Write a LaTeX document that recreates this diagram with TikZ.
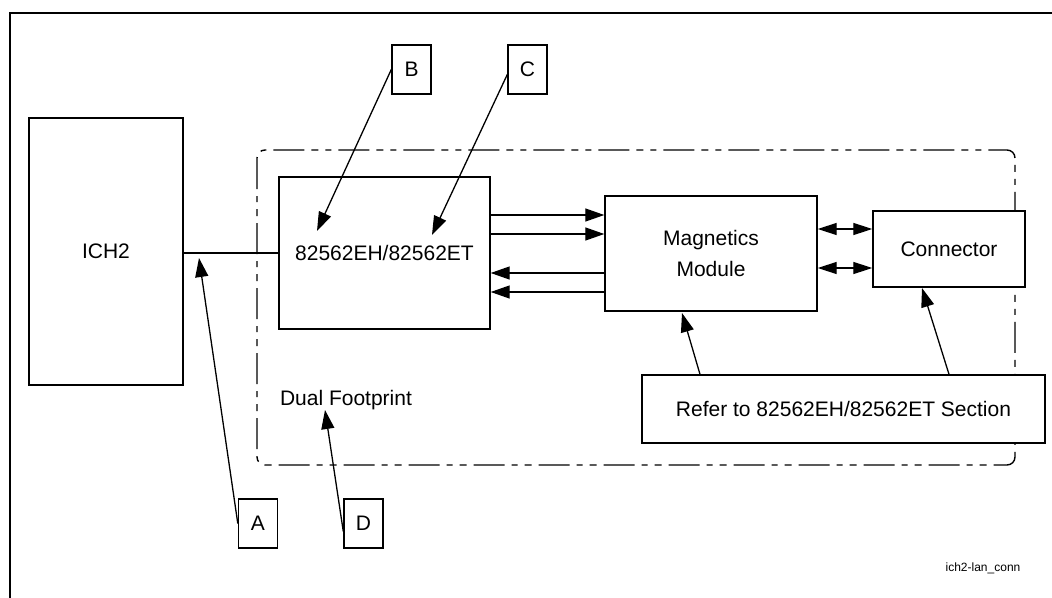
\documentclass[tikz,border=0pt]{standalone}
\usepackage{fontspec}
\setmainfont{Liberation Sans}
\usetikzlibrary{arrows.meta}
\tikzset{
  box/.style={draw, line width=1.4pt, rectangle, inner sep=0pt, align=center,
    fill=white, font=\fontsize{21}{31}\selectfont},
  lbl/.style={box, minimum width=39pt, minimum height=49pt},
  arr/.style={line width=1.3pt, -{Triangle[length=19pt,width=13pt]}},
  darr/.style={line width=1.3pt, {Triangle[length=19pt,width=12pt]}-{Triangle[length=19pt,width=12pt]}},
  wire/.style={line width=1.3pt},
  ddot/.style={line width=1.4pt, dash pattern=on 31pt off 7pt on 6pt off 7pt on 7pt off 7pt, rounded corners=8pt}
}
\begin{document}
\begin{tikzpicture}[x=1pt,y=-1pt]
\useasboundingbox (0,0) rectangle (1052,597);
% frame
\draw[line width=2.5pt] (10,600) -- (10,13) -- (1056,13);
% dual footprint region
\draw[ddot] (257,150) rectangle (1015,465);
% main blocks
\node[box, minimum width=154pt, minimum height=267pt] (ich) at (106,251.5) {ICH2};
\node[box, minimum width=211pt, minimum height=152pt] (chip) at (384.5,253) {82562EH/82562ET};
\node[box, minimum width=212pt, minimum height=115pt] (mag) at (711,253.5) {Magnetics\\Module};
\node[box, minimum width=152pt, minimum height=76pt] (conn) at (949,249) {Connector};
\node[box, minimum width=403pt, minimum height=68pt] (refer) at (843.5,409) {Refer to 82562EH/82562ET Section};
\node[font=\fontsize{21}{25}\selectfont, inner sep=0pt] (dual) at (346,400) {Dual Footprint};
\node[font=\fontsize{12}{14}\selectfont, inner sep=0pt] (tag) at (983,568) {ich2-lan\_conn};
% letter labels
\node[lbl] (B) at (411.5,69.5) {B};
\node[lbl] (C) at (527.5,69.5) {C};
\node[lbl] (A) at (258,523.5) {A};
\node[lbl] (D) at (363.5,523.5) {D};
% ICH2 to chip
\draw[wire] (ich.east |- chip.west) -- (chip.west);
% chip <-> magnetics
\coordinate (y1) at (0,215);
\coordinate (y2) at (0,234);
\coordinate (y3) at (0,273);
\coordinate (y4) at (0,292);
\draw[arr] (chip.east |- y1) -- (mag.west |- y1);
\draw[arr] (chip.east |- y2) -- (mag.west |- y2);
\draw[arr] (mag.west |- y3) -- (chip.east |- y3);
\draw[arr] (mag.west |- y4) -- (chip.east |- y4);
% magnetics <-> connector
\coordinate (y5) at (0,229);
\coordinate (y6) at (0,268);
\draw[darr] (mag.east |- y5) -- (conn.west |- y5);
\draw[darr] (mag.east |- y6) -- (conn.west |- y6);
% leader arrows
\coordinate (tB) at (317,231);
\coordinate (tC) at (432,235);
\coordinate (tA) at (199,258);
\coordinate (tD) at (325,410);
\coordinate (tM) at (682,313);
\coordinate (tK) at (922,288);
\coordinate (sM) at (700,0);
\coordinate (sK) at (949,0);
\draw[arr] (B.west) -- (tB);
\draw[arr] ([yshift=-5pt]C.west) -- (tC);
\draw[arr] (A.west) -- (tA);
\draw[arr] ([yshift=-8pt]D.west) -- (tD);
\draw[arr] (refer.north -| sM) -- (tM);
\draw[arr] (refer.north -| sK) -- (tK);
\end{tikzpicture}
\end{document}
